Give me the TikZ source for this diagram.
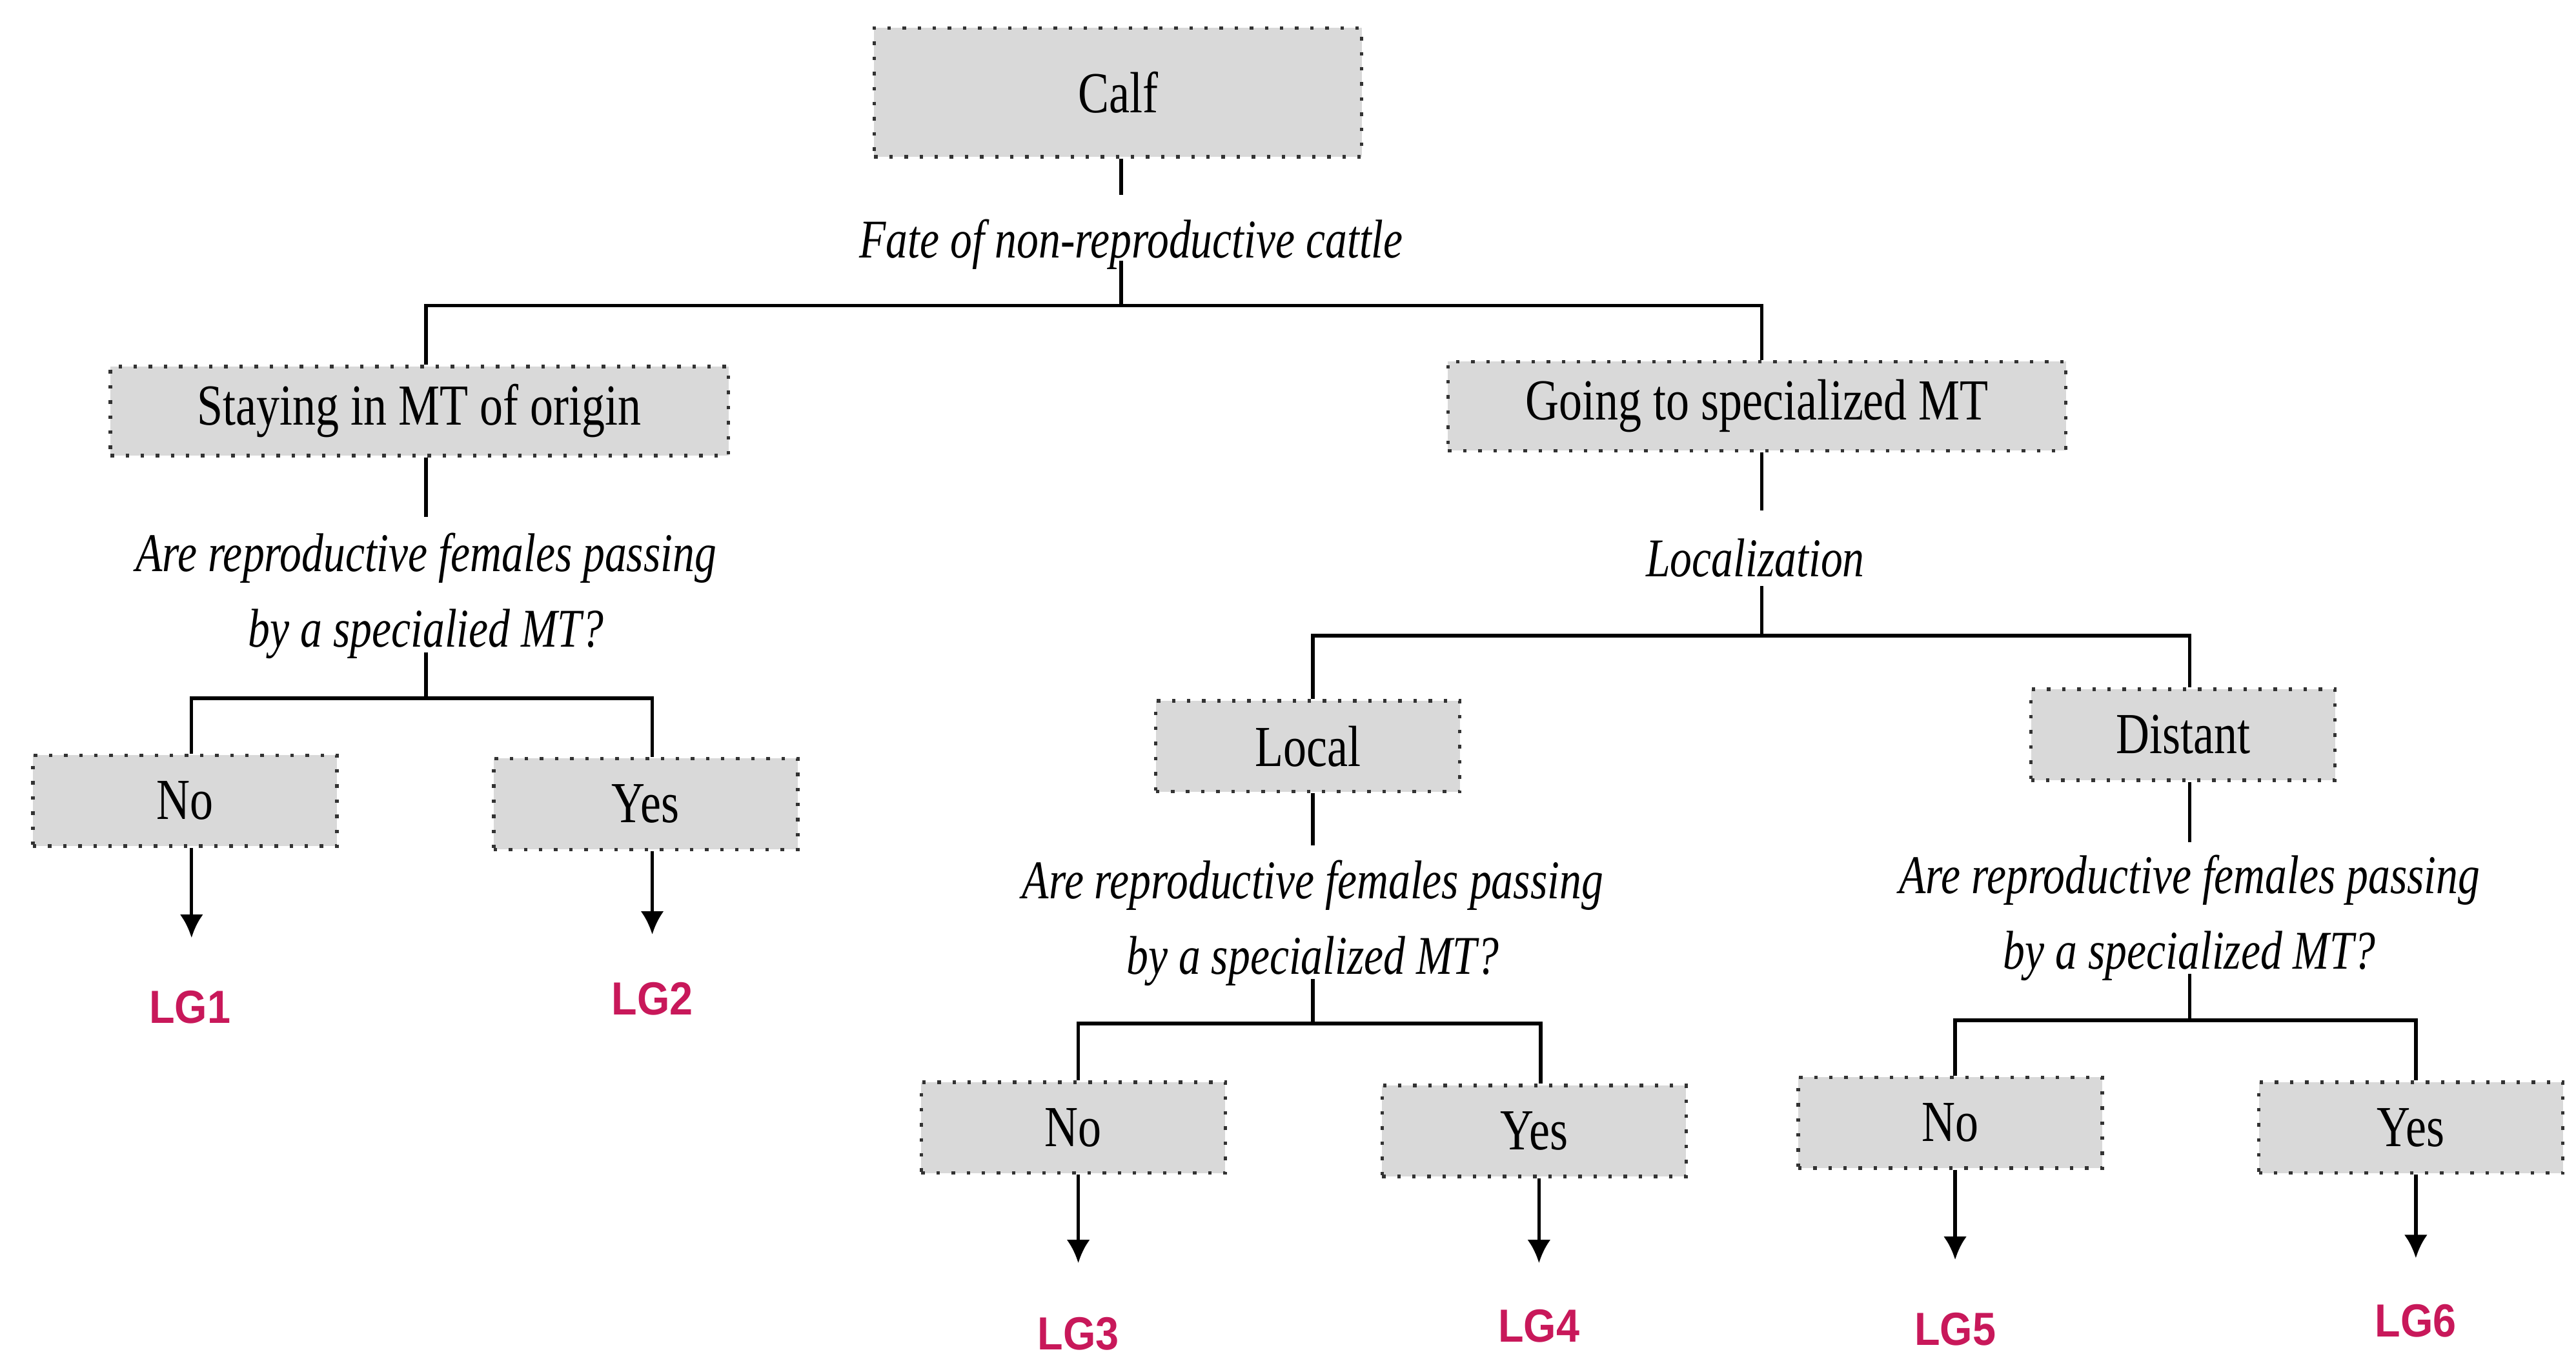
\documentclass[tikz,border=0pt]{standalone}
\usepackage{fontspec}
\setmainfont{Liberation Serif}[FakeStretch=0.8]
\newfontfamily\lgfont{Liberation Sans}[FakeStretch=0.9]
\usetikzlibrary{arrows.meta}
\definecolor{boxgray}{HTML}{D9D9D9}
\definecolor{lgred}{HTML}{C8185A}
\begin{document}
\begin{tikzpicture}[x=0.01cm,y=-0.01cm,
  box/.style={draw=black!80,dotted,line width=0.6pt,fill=boxgray,inner sep=0pt,font=\fontsize{10}{12}\selectfont},
  big/.style={box,minimum width=3.74cm,minimum height=0.54cm},
  small/.style={box,minimum width=1.84cm,minimum height=0.55cm},
  q/.style={font=\fontsize{9.4}{13}\selectfont\itshape,align=center,inner sep=1pt},
  lg/.style={font=\lgfont\bfseries\fontsize{8}{10}\selectfont,text=lgred},
  ln/.style={line width=0.6pt},
  arr/.style={ln,-{Latex[length=4pt,width=4pt]}}]
\useasboundingbox (0,0) rectangle (1560,831);
\node[box,minimum width=2.95cm,minimum height=0.78cm] (calf) at (677,56) {Calf};
\node[q] (fate) at (685,148) {Fate of non-reproductive cattle};
\node[big] (stay) at (254,249) {Staying in MT of origin};
\node[big] (go) at (1064,246) {Going to specialized MT};
\node[q] (q1) at (258,361) {Are reproductive females passing\\by a specialied MT?};
\node[small] (no1) at (112,485) {No};
\node[small] (yes1) at (391,487) {Yes};
\node[lg] (lg1) at (115,610) {LG1};
\node[lg] (lg2) at (395,605) {LG2};
\node[q] (loc) at (1063,338) {Localization};
\node[small] (local) at (792,452) {Local};
\node[small] (dist) at (1322,445) {Distant};
\node[q] (q2) at (795,559) {Are reproductive females passing\\by a specialized MT?};
\node[q] (q3) at (1326,556) {Are reproductive females passing\\by a specialized MT?};
\node[small] (no3) at (650,683) {No};
\node[small] (yes4) at (929,685) {Yes};
\node[small] (no5) at (1181,680) {No};
\node[small] (yes6) at (1460,683) {Yes};
\node[lg] (lg3) at (653,808) {LG3};
\node[lg] (lg4) at (932,803) {LG4};
\node[lg] (lg5) at (1184,805) {LG5};
\node[lg] (lg6) at (1463,800) {LG6};
% connectors
\draw[ln] (calf.south -| 679,0) -- (679,118);
\draw[ln] (679,158) -- (679,185) -| (stay.north -| 258,0);
\draw[ln] (679,185) -| (go.north -| 1067,0);
\draw[ln] (stay.south -| 258,0) -- (258,313);
\draw[ln] (258,395) -- (258,423) -| (no1.north -| 116,0);
\draw[ln] (258,423) -| (yes1.north -| 395,0);
\draw[arr] (no1.south -| 116,0) -- (116,568);
\draw[arr] (yes1.south -| 395,0) -- (395,566);
\draw[ln] (go.south -| 1067,0) -- (1067,309);
\draw[ln] (1067,355) -- (1067,385) -| (local.north -| 795,0);
\draw[ln] (1067,385) -| (dist.north -| 1326,0);
\draw[ln] (local.south -| 795,0) -- (795,512);
\draw[ln] (795,593) -- (795,620) -| (no3.north -| 653,0);
\draw[ln] (795,620) -| (yes4.north -| 933,0);
\draw[ln] (dist.south -| 1326,0) -- (1326,510);
\draw[ln] (1326,590) -- (1326,618) -| (no5.north -| 1184,0);
\draw[ln] (1326,618) -| (yes6.north -| 1463,0);
\draw[arr] (no3.south -| 653,0) -- (653,765);
\draw[arr] (yes4.south -| 932,0) -- (932,765);
\draw[arr] (no5.south -| 1184,0) -- (1184,763);
\draw[arr] (yes6.south -| 1463,0) -- (1463,762);
\end{tikzpicture}
\end{document}
